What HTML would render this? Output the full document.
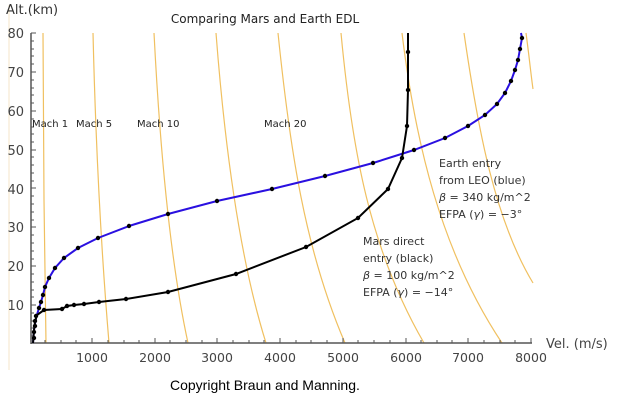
<!DOCTYPE html>
<html><head><style>
body{margin:0;background:#fff}
svg{display:block}
text{font-family:"DejaVu Sans","Liberation Sans",sans-serif}
</style></head><body>
<svg width="620" height="400" viewBox="0 0 620 400">
<line x1="9" y1="5" x2="9" y2="370" stroke="#f5e6c8" stroke-width="1"/>
<text x="6" y="14" font-size="13" fill="#333">Alt.(km)</text>
<text x="265" y="23" font-size="12" fill="#222" text-anchor="middle">Comparing Mars and Earth EDL</text>
<g fill="none" stroke="#f0c060" stroke-width="1.2">
<path d="M43,33 L44,200 L46,343"/>
<path d="M93,33 Q97,200 109,343"/>
<path d="M154,33 C160,150 170,260 188,343"/>
<path d="M216,33 C225,150 240,260 266,343"/>
<path d="M278,33 C290,150 305,250 345,343"/>
<path d="M341,33 C352,150 370,250 424,343"/>
<path d="M402,33 C415,140 440,250 502,343"/>
<path d="M464,33 C478,130 495,220 533,283"/>
<path d="M526,33 C529,55 531,75 533,89"/>
</g>
<g stroke="#555" stroke-width="1.5" fill="none">
<line x1="31" y1="33" x2="31" y2="344"/>
<line x1="31" y1="343" x2="532" y2="343"/>
</g>
<g stroke="#555" stroke-width="1">
<path d="M31,33h5M31,72h5M31,111h5M31,150h5M31,188h5M31,227h5M31,266h5M31,305h5"/>
<path d="M31,41h3M31,49h3M31,56h3M31,64h3M31,80h3M31,88h3M31,95h3M31,103h3M31,119h3M31,127h3M31,134h3M31,142h3M31,157h3M31,165h3M31,173h3M31,181h3M31,196h3M31,204h3M31,212h3M31,220h3M31,235h3M31,243h3M31,251h3M31,259h3M31,274h3M31,282h3M31,290h3M31,297h3M31,313h3M31,321h3M31,328h3M31,336h3"/>
<path d="M92,343v-5M155,343v-5M217,343v-5M280,343v-5M343,343v-5M406,343v-5M468,343v-5M531,343v-5"/>
<path d="M45,343v-3M61,343v-3M76,343v-3M108,343v-3M124,343v-3M139,343v-3M170,343v-3M186,343v-3M202,343v-3M233,343v-3M249,343v-3M264,343v-3M296,343v-3M311,343v-3M327,343v-3M358,343v-3M374,343v-3M390,343v-3M421,343v-3M437,343v-3M452,343v-3M484,343v-3M500,343v-3M515,343v-3"/>
</g>
<g font-size="13" fill="#444" text-anchor="end">
<text x="24" y="38">80</text><text x="24" y="77">70</text><text x="24" y="116">60</text>
<text x="24" y="155">50</text><text x="24" y="194">40</text><text x="24" y="232">30</text>
<text x="24" y="271">20</text><text x="24" y="310">10</text>
</g>
<g font-size="12.5" fill="#444" text-anchor="middle">
<text x="92" y="362">1000</text><text x="155" y="362">2000</text><text x="217" y="362">3000</text>
<text x="280" y="362">4000</text><text x="343" y="362">5000</text><text x="406" y="362">6000</text>
<text x="468" y="362">7000</text><text x="531" y="362">8000</text>
</g>
<text x="546" y="348" font-size="13" fill="#444">Vel. (m/s)</text>
<g font-size="10" fill="#222">
<text x="32" y="127">Mach 1</text><text x="76" y="127">Mach 5</text>
<text x="137" y="127">Mach 10</text><text x="264" y="127">Mach 20</text>
</g>
<polyline fill="none" stroke="#2a10e0" stroke-width="2" points="33,343 34,330 36,318 39,308 41,302 43,295 45,287 49,278 55,268 64,258 78,248 98,238 129,226 168,214 217,201 272,189 325,176 373,163 414,150 445,138 468,126 485,115 497,104 505,93 511,81 515,70 518,60 520,49 522,38 521,33"/>
<polyline fill="none" stroke="#000" stroke-width="2" points="33,343 34,330 35,322 37,315 44,310 62,309 67,306 74,305 84,304 99,302 126,299 168,292 236,274 306,247 358,218 388,189 402,158 407,126 408,90 408,52 408,33"/>
<g fill="#000">
<circle cx="34" cy="338" r="2.2"/><circle cx="34" cy="332" r="2.2"/><circle cx="35" cy="326" r="2.2"/><circle cx="35" cy="321" r="2.2"/><circle cx="36" cy="316" r="2.2"/>
<circle cx="39" cy="308" r="2.2"/><circle cx="41" cy="302" r="2.2"/><circle cx="43" cy="295" r="2.2"/><circle cx="45" cy="287" r="2.2"/><circle cx="49" cy="278" r="2.2"/><circle cx="55" cy="268" r="2.2"/><circle cx="64" cy="258" r="2.2"/><circle cx="78" cy="248" r="2.2"/><circle cx="98" cy="238" r="2.2"/><circle cx="129" cy="226" r="2.2"/><circle cx="168" cy="214" r="2.2"/><circle cx="217" cy="201" r="2.2"/><circle cx="272" cy="189" r="2.2"/><circle cx="325" cy="176" r="2.2"/><circle cx="373" cy="163" r="2.2"/><circle cx="414" cy="150" r="2.2"/><circle cx="445" cy="138" r="2.2"/><circle cx="468" cy="126" r="2.2"/><circle cx="485" cy="115" r="2.2"/><circle cx="497" cy="104" r="2.2"/><circle cx="505" cy="93" r="2.2"/><circle cx="511" cy="81" r="2.2"/><circle cx="515" cy="70" r="2.2"/><circle cx="518" cy="60" r="2.2"/><circle cx="520" cy="49" r="2.2"/><circle cx="522" cy="38" r="2.2"/>
<circle cx="44" cy="310" r="2.2"/><circle cx="62" cy="309" r="2.2"/><circle cx="67" cy="306" r="2.2"/><circle cx="74" cy="305" r="2.2"/><circle cx="84" cy="304" r="2.2"/><circle cx="99" cy="302" r="2.2"/><circle cx="126" cy="299" r="2.2"/><circle cx="168" cy="292" r="2.2"/><circle cx="236" cy="274" r="2.2"/><circle cx="306" cy="247" r="2.2"/><circle cx="358" cy="218" r="2.2"/><circle cx="388" cy="189" r="2.2"/><circle cx="402" cy="158" r="2.2"/><circle cx="407" cy="126" r="2.2"/><circle cx="408" cy="90" r="2.2"/><circle cx="408" cy="52" r="2.2"/>
</g>
<g font-size="11" fill="#333">
<text x="439" y="167">Earth entry</text>
<text x="439" y="184">from LEO (blue)</text>
<text x="439" y="201"><tspan font-style="italic">β</tspan> = 340 kg/m^2</text>
<text x="439" y="218">EFPA (<tspan font-style="italic">γ</tspan>) = −3°</text>
<text x="363" y="245">Mars direct</text>
<text x="363" y="262">entry (black)</text>
<text x="363" y="279"><tspan font-style="italic">β</tspan> = 100 kg/m^2</text>
<text x="363" y="296">EFPA (<tspan font-style="italic">γ</tspan>) = −14°</text>
</g>
<text x="170" y="390" font-size="14" fill="#000" style="font-family:'Liberation Sans',sans-serif">Copyright Braun and Manning.</text>
</svg>
</body></html>
